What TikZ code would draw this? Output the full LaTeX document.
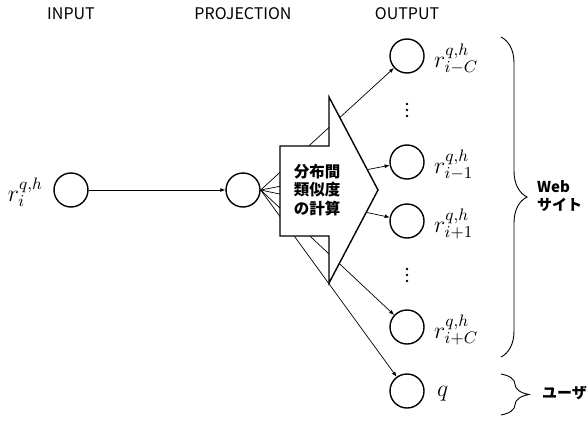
\documentclass[tikz,border=0pt]{standalone}
\usepackage{fix-cm}
\usepackage{fontspec}
\setmainfont{Noto Sans CJK JP}
\usetikzlibrary{arrows.meta,decorations.pathreplacing}
\newcommand{\bigmath}[1]{\scalebox{1.7}{$#1$}}
\tikzset{
  neuron/.style={circle,draw,line width=1.4pt,minimum size=34pt,inner sep=0pt},
  head/.style={font=\fontsize{16}{18}\selectfont,anchor=center},
  conn/.style={line width=0.7pt,-{Latex[length=5pt,width=4pt]}},
  mlabel/.style={anchor=base west,inner sep=0pt,font=\fontsize{14}{16}\selectfont},
  bracestyle/.style={line width=0.9pt,decorate,decoration={brace,amplitude=26pt}},
  blabel/.style={anchor=west,align=left,font=\fontsize{15}{18}\selectfont\bfseries,inner sep=0pt},
}
\begin{document}
\begin{tikzpicture}[x=1pt,y=-1pt]
\useasboundingbox (0,0) rectangle (588,423);
% headers
\node[head] (hin) at (71,14) {INPUT};
\node[head] (hproj) at (243,14) {PROJECTION};
\node[head] (hout) at (407,14) {OUTPUT};
% neurons
\node[neuron] (in) at (71,190) {};
\node[neuron] (proj) at (243,190) {};
\node[neuron] (o1) at (407,56) {};
\node[neuron] (o2) at (407,162) {};
\node[neuron] (o3) at (407,221) {};
\node[neuron] (o4) at (407,327) {};
\node[neuron] (o5) at (407,391) {};
% dots
\foreach \y in {104,110,116} \fill (407,\y) circle (1.3pt);
\foreach \y in {269,275,281} \fill (407,\y) circle (1.3pt);
% labels
\node[mlabel,anchor=base east] (lin) at (43,201) {\bigmath{r_i^{q,h}}};
\node[mlabel] (l1) at (434,67) {\bigmath{r_{i{-}C}^{q,h}}};
\node[mlabel] (l2) at (434,173) {\bigmath{r_{i{-}1}^{q,h}}};
\node[mlabel] (l3) at (434,232) {\bigmath{r_{i{+}1}^{q,h}}};
\node[mlabel] (l4) at (434,338) {\bigmath{r_{i{+}C}^{q,h}}};
\node[mlabel] (l5) at (437,396) {\bigmath{q}};
% connections
\draw[conn] (in) -- (proj);
\foreach \o in {o1,o2,o3,o4,o5} \draw[conn] (proj.east) -- (\o);
% big arrow
\draw[line width=1.4pt,fill=white,line join=miter]
  (280,146) -- (329,146) -- (329,97) -- (378,190) -- (329,283) -- (329,236) -- (280,236) -- cycle;
\node[align=center,font=\fontsize{15.5}{18.3}\selectfont\bfseries] (calc) at (317,190) {分布間\\類似度\\の計算};
% braces
\coordinate (b1s) at (501,37);
\coordinate (b1e) at (501,357);
\coordinate (b2s) at (501,374);
\coordinate (b2e) at (501,415);
\draw[bracestyle] (b1s) -- (b1e);
\draw[bracestyle,decoration={amplitude=28pt}] (b2s) -- (b2e);
\node[blabel] (web) at (537,196) {Web\\サイト};
\node[blabel] (user) at (542,393) {ユーザ};
\end{tikzpicture}
\end{document}
